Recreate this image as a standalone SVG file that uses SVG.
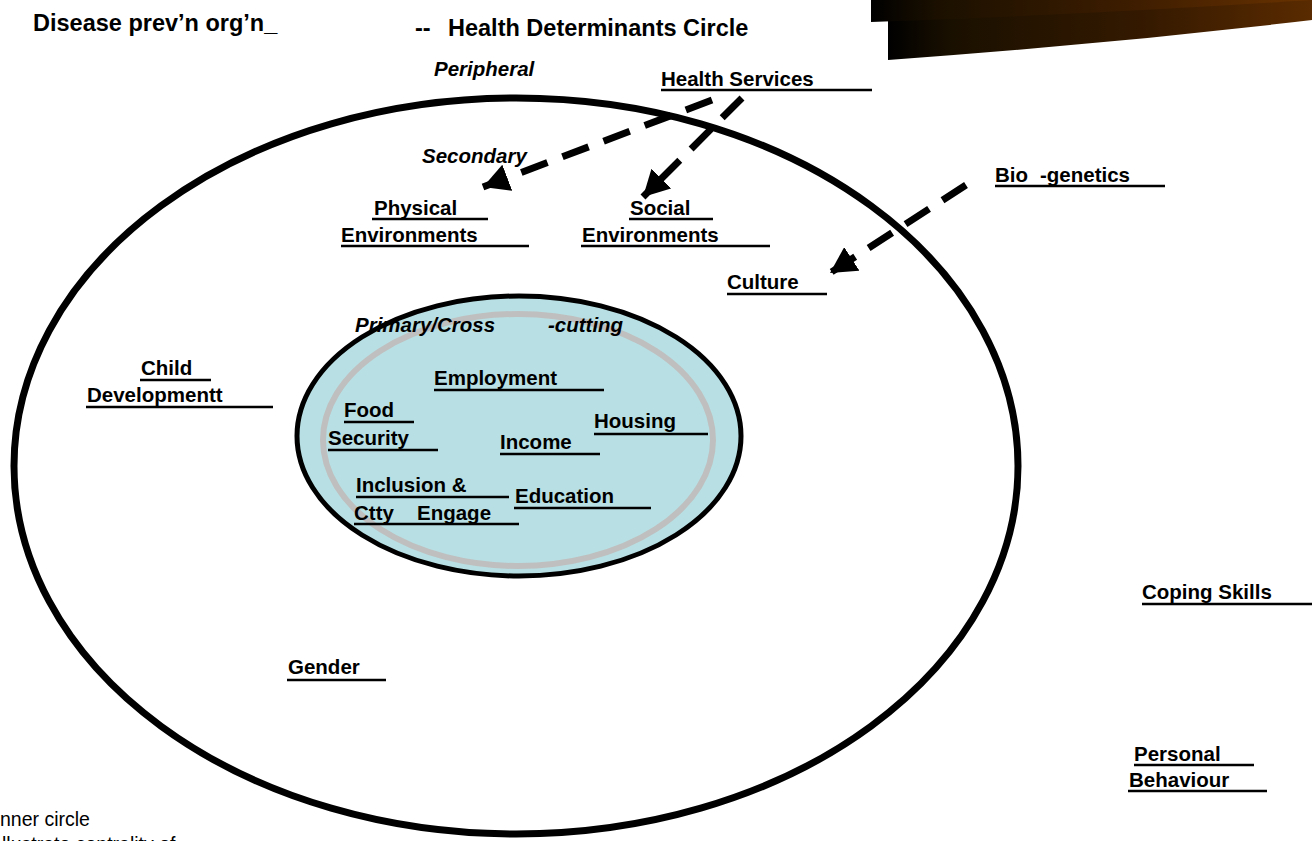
<svg xmlns="http://www.w3.org/2000/svg" width="1312" height="841" viewBox="0 0 1312 841">
<style>
text{font-family:"Liberation Sans",Arial,sans-serif;font-weight:bold;font-size:20.5px;fill:#000}
.tt{font-size:23.5px}
.it{font-style:italic}
.reg{font-weight:normal;font-size:19.5px}
.ul{stroke:#000;stroke-width:2.5}
.dash{fill:none;stroke:#000;stroke-width:7;stroke-dasharray:28 16}
</style>
<defs>
<linearGradient id="g1" x1="871" y1="0" x2="1312" y2="0" gradientUnits="userSpaceOnUse">
<stop offset="0" stop-color="#000"/><stop offset="0.15" stop-color="#1b1000"/><stop offset="0.6" stop-color="#3e1d00"/><stop offset="1" stop-color="#6a3300"/>
</linearGradient>
<linearGradient id="g2" x1="888" y1="0" x2="1312" y2="0" gradientUnits="userSpaceOnUse">
<stop offset="0" stop-color="#000"/><stop offset="0.15" stop-color="#1a1000"/><stop offset="0.6" stop-color="#341900"/><stop offset="1" stop-color="#5a2b00"/>
</linearGradient>
<marker id="ah" markerUnits="userSpaceOnUse" markerWidth="28" markerHeight="28" refX="26" refY="14" orient="auto">
<path d="M0,0 L26,14 L0,28 Z" fill="#000"/>
</marker>
</defs>

<g id="banner">
<path d="M888,0 L1312,0 L1312,20 Q1100,45 888,60 Z" fill="url(#g2)"/>
<path d="M871,0 L1312,0 L1312,0 Q1100,14 871,22 Z" fill="url(#g1)"/>
</g>

<g id="outer-circle">
<ellipse cx="516" cy="466" rx="502" ry="368" fill="none" stroke="#000" stroke-width="7"/>
</g>
<g id="inner-circle">
<ellipse cx="519" cy="436" rx="222" ry="140" fill="#b8e0e4" stroke="#000" stroke-width="5"/>
<ellipse cx="518" cy="440" rx="195" ry="126" fill="none" stroke="#bfbfbf" stroke-width="6"/>
</g>

<g id="title">
<text class="tt" x="33" y="31">Disease prev’n org’n_</text>
<text class="tt" x="415" y="36">--</text>
<text class="tt" x="448" y="36">Health Determinants Circle</text>
</g>

<g id="levels">
<text class="it" x="434" y="76">Peripheral</text>
<text class="it" x="422" y="163">Secondary</text>
<text class="it" x="355" y="332">Primary/Cross</text>
<text class="it" x="548" y="332">-cutting</text>
</g>

<g id="health-services"><text x="661" y="86">Health Services</text><line class="ul" x1="661" y1="90" x2="872" y2="90"/></g>
<g id="physical-env"><text x="374" y="215">Physical</text><line class="ul" x1="372" y1="219" x2="488" y2="219"/>
<text x="341" y="242">Environments</text><line class="ul" x1="341" y1="246" x2="529" y2="246"/></g>
<g id="social-env"><text x="630" y="215">Social</text><line class="ul" x1="629" y1="219" x2="713" y2="219"/>
<text x="582" y="242">Environments</text><line class="ul" x1="581" y1="246" x2="770" y2="246"/></g>
<g id="bio-genetics"><text x="995" y="182">Bio</text><text x="1040" y="182">-genetics</text><line class="ul" x1="995" y1="186" x2="1165" y2="186"/></g>
<g id="culture"><text x="727" y="289">Culture</text><line class="ul" x1="727" y1="294" x2="827" y2="294"/></g>
<g id="child-dev"><text x="141" y="375">Child</text><line class="ul" x1="140" y1="380" x2="211" y2="380"/>
<text x="87" y="402">Developmentt</text><line class="ul" x1="86" y1="407" x2="273" y2="407"/></g>
<g id="employment"><text x="434" y="385">Employment</text><line class="ul" x1="434" y1="390" x2="604" y2="390"/></g>
<g id="food-security"><text x="344" y="417">Food</text><line class="ul" x1="344" y1="422" x2="414" y2="422"/>
<text x="328" y="445">Security</text><line class="ul" x1="328" y1="450" x2="438" y2="450"/></g>
<g id="housing"><text x="594" y="428">Housing</text><line class="ul" x1="594" y1="434" x2="708" y2="434"/></g>
<g id="income"><text x="500" y="449">Income</text><line class="ul" x1="500" y1="454" x2="600" y2="454"/></g>
<g id="inclusion"><text x="356" y="492">Inclusion &amp;</text><line class="ul" x1="356" y1="497" x2="509" y2="497"/>
<text x="354" y="520">Ctty</text><text x="417" y="520">Engage</text><line class="ul" x1="354" y1="524" x2="519" y2="524"/></g>
<g id="education"><text x="515" y="503">Education</text><line class="ul" x1="514" y1="508" x2="651" y2="508"/></g>
<g id="gender"><text x="288" y="674">Gender</text><line class="ul" x1="287" y1="680" x2="386" y2="680"/></g>
<g id="coping"><text x="1142" y="599">Coping Skills</text><line class="ul" x1="1142" y1="604" x2="1312" y2="604"/></g>
<g id="personal"><text x="1134" y="761">Personal</text><line class="ul" x1="1134" y1="765" x2="1254" y2="765"/>
<text x="1129" y="787">Behaviour</text><line class="ul" x1="1128" y1="791" x2="1267" y2="791"/></g>

<g id="note">
<text class="reg" x="0" y="826">nner circle</text>
<text class="reg" x="2" y="851">llustrate  centrality  of</text>
</g>

<g id="connectors">
<line class="dash" x1="712" y1="100" x2="483" y2="187" marker-end="url(#ah)"/>
<line class="dash" x1="742" y1="98" x2="643" y2="197" marker-end="url(#ah)"/>
<line class="dash" x1="966" y1="185" x2="830" y2="273" marker-end="url(#ah)"/>
</g>
</svg>
